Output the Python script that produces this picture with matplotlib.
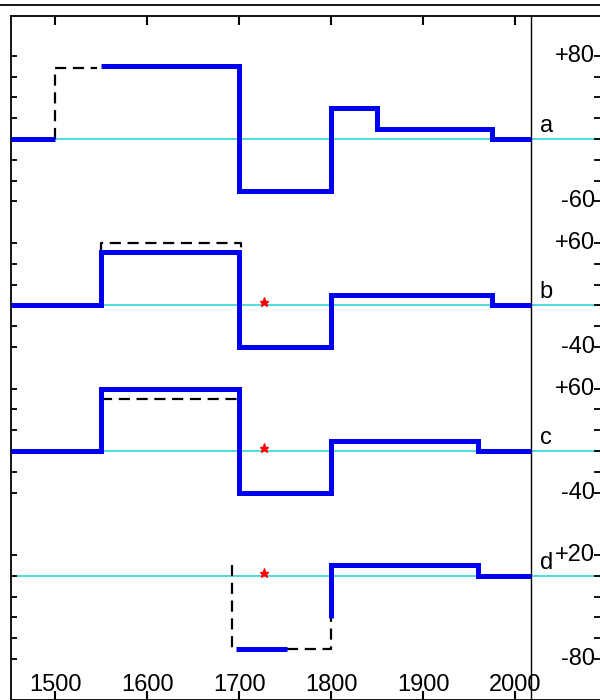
import numpy as np
import matplotlib
matplotlib.use("Agg")
import matplotlib.pyplot as plt
from matplotlib.lines import Line2D

plt.rcParams["font.family"] = ["Liberation Sans", "DejaVu Sans"]

nan = np.nan

# step series (year edges, value after each edge)
years_a = [1452, 1500, 1550, 1700, 1800, 1850, 1975, 2017]
vals_a = [0, nan, 70, -50, 30, 10, 0, 0]
years_b = [1452, 1550, 1700, 1800, 1975, 2017]
vals_b = [0, 51, -40, 10, 0, 0]
years_c = [1452, 1550, 1700, 1800, 1960, 2017]
vals_c = [0, 60, -40, 10, 0, 0]
years_d = [1697, 1752, 1800, 1800, 1960, 2017]
vals_d = [-70, nan, -41, 10, 0, 0]

# dashed alternatives
dash_a = ([1500, 1500, 1545], [0, 68, 68])
dash_b = ([1550, 1550, 1702, 1702], [51, 60, 60, 51])
dash_c = ([1550, 1700], [50, 50])
dash_d = [([1692, 1692, 1697], [10, -70, -70]),
          ([1752, 1800, 1800], [-70, -70, -41])]

star_year = 1727
star_val = 3

labels = ["a", "b", "c", "d"]
ranges = [(-60, 80), (-40, 60), (-40, 60), (-80, 20)]
offsets = [0, -160, -300, -420]

blue = "#0000f0"
cyan = "#3fd9d9"

fig = plt.figure(figsize=(6, 7), dpi=100)
ax = fig.add_axes([11 / 600, 0, 589 / 600, 684 / 700])
ax.set_xlim(1452, 2092.4)
ax.set_ylim(-539.4, 118.3)

series = [(years_a, vals_a, [dash_a]), (years_b, vals_b, [dash_b]),
          (years_c, vals_c, [dash_c]), (years_d, vals_d, dash_d)]

for i, (yrs, vals, dashes) in enumerate(series):
    off = offsets[i]
    ax.axhline(off, color=cyan, lw=1.3, zorder=1)
    for dx, dy in dashes:
        ax.plot(dx, np.array(dy) + off, color="black", lw=1.6,
                linestyle=(0, (5, 3)), zorder=2)
    ax.plot(yrs, np.array(vals) + off, drawstyle="steps-post", color=blue,
            lw=3.6, solid_capstyle="butt", solid_joinstyle="miter", zorder=3)
    if i > 0:
        ax.plot(star_year, star_val + off, marker="*", color="red",
                markersize=6.5, zorder=4)
    ax.text(2027, off + 2, labels[i], fontsize=17, ha="left", va="bottom")
    lo, hi = ranges[i]
    ax.text(0.9915, hi + off, "+%d" % hi, transform=ax.get_yaxis_transform(),
            fontsize=17, ha="right", va="center")
    ax.text(0.9915, lo + off, "%d" % lo, transform=ax.get_yaxis_transform(),
            fontsize=17, ha="right", va="center")

ax.axvline(2017, color="black", lw=1.0, zorder=2)

# y ticks every 20 within each series range
yt = []
for (lo, hi), off in zip(ranges, offsets):
    yt += [v + off for v in range(lo, hi + 1, 20)]
ax.set_yticks(yt)
ax.set_yticklabels([])
ax.tick_params(axis="y", direction="in", length=4.5, width=1.3,
               left=True, right=True)

ax.set_xticks(range(1500, 2001, 100))
ax.tick_params(axis="x", direction="in", length=6.5, width=1.5,
               top=True, bottom=True, labelsize=17, pad=-19)

ax.spines["right"].set_visible(False)
for s in ["left", "top", "bottom"]:
    ax.spines[s].set_linewidth(1.3)

fig.add_artist(Line2D([0, 1], [695 / 700, 695 / 700], color="black", lw=1.3))

fig.savefig("out.png", dpi=100)
